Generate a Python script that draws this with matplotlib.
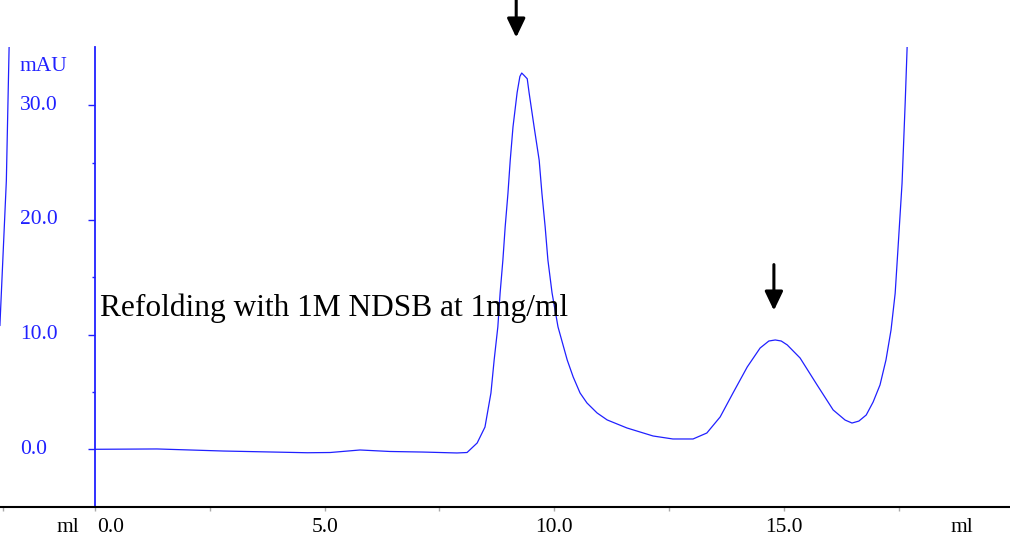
"""Chromatogram: refolding with 1M NDSB at 1mg/ml"""

import matplotlib
matplotlib.use("Agg")
import matplotlib.pyplot as plt
from matplotlib.ticker import FixedLocator

# trace (ml, mAU)
volume_ml = [
    0.00, 1.35, 2.79, 4.62, 5.12, 5.77, 6.42, 7.14, 7.88, 8.10,
    8.32, 8.49, 8.62, 8.69, 8.77, 8.82, 8.88, 8.93, 8.99, 9.04,
    9.10, 9.19, 9.25, 9.29, 9.34, 9.41, 9.45, 9.56, 9.67, 9.73,
    9.80, 9.86, 9.95, 10.08, 10.28, 10.41, 10.56, 10.71, 10.93, 11.15,
    11.58, 12.15, 12.58, 13.02, 13.32, 13.61, 13.89, 14.20, 14.48, 14.67,
    14.81, 14.94, 15.07, 15.35, 15.72, 16.07, 16.33, 16.48, 16.63, 16.79,
    16.94, 17.09, 17.22, 17.33, 17.42, 17.48, 17.57, 17.64, 17.68, 17.70,
]
absorbance_mau = [
    0.00, 0.03, -0.15, -0.30, -0.28, -0.06, -0.19, -0.24, -0.32, -0.28,
    0.55, 1.94, 4.91, 7.79, 10.67, 13.64, 16.5, 19.4, 22.3, 25.2,
    28.1, 31.1, 32.5, 32.8, 32.6, 32.3, 31.1, 28.1, 25.2, 22.3,
    19.4, 16.5, 13.64, 10.67, 7.79, 6.31, 4.91, 4.04, 3.17, 2.56,
    1.86, 1.16, 0.90, 0.90, 1.42, 2.82, 4.91, 7.18, 8.83, 9.44,
    9.53, 9.44, 9.10, 7.96, 5.61, 3.43, 2.55, 2.29, 2.46, 2.99,
    4.12, 5.61, 7.79, 10.4, 13.6, 17.4, 23.2, 30.4, 35.0, 40.0,
]
# tail of the previous run at the left edge
prev_ml = [-2.07, -1.93, -1.87, -1.85]
prev_mau = [10.8, 23.4, 35.0, 40.0]

y_major = [0, 10, 20, 30]
y_minor = [5, 15, 25]
y_labels = ["0.0", "10.0", "20.0", "30.0"]
x_major = [0, 5, 10, 15]
x_minor = [-2.0, 2.5, 7.5, 12.5, 17.5]
x_labels = ["0.0", "5.0", "10.0", "15.0"]
peak_marks = [(9.17, 35.9), (14.78, 12.1)]   # arrow tips

BLUE = "#2020ff"
SERIF = "Liberation Serif"

fig = plt.figure(figsize=(10.10, 5.41), dpi=100)
ax = fig.add_axes([0, 34 / 541, 1, 460 / 541])
ax.set_xlim(-2.068, 19.92)
ax.set_ylim(-5.03, 35.07)

ax.plot(volume_ml, absorbance_mau, color=BLUE, lw=0.9)
ax.plot(prev_ml, prev_mau, color=BLUE, lw=0.9)

for side in ("top", "right"):
    ax.spines[side].set_visible(False)
ax.spines["left"].set_position(("data", 0))
ax.spines["left"].set_color(BLUE)
ax.spines["left"].set_linewidth(1.3)
ax.spines["bottom"].set_color("black")
ax.spines["bottom"].set_linewidth(1.5)

# y ticks: blue, outward; labels drawn by hand at the far left
ax.yaxis.set_major_locator(FixedLocator(y_major))
ax.yaxis.set_minor_locator(FixedLocator(y_minor))
ax.tick_params(axis="y", which="major", direction="out", length=5,
               color=BLUE, width=1, labelleft=False)
ax.tick_params(axis="y", which="minor", direction="out", length=2.5,
               color=BLUE, width=1)
for v, s in zip(y_major, y_labels):
    ax.text(-1.635, v, s, ha="left", va="center", color=BLUE,
            family=SERIF, fontsize=15.5)
ax.text(-1.635, 33.4, "mAU", ha="left", va="center", color=BLUE,
        family=SERIF, fontsize=15.5)

# x ticks: small grey marks, labels in black
ax.xaxis.set_major_locator(FixedLocator(x_major))
ax.xaxis.set_minor_locator(FixedLocator(x_minor))
ax.tick_params(axis="x", which="both", direction="out", length=3,
               color="#aaaaaa", width=1, labelbottom=False)
for v, s in zip(x_major, x_labels):
    if v == 0:
        ax.text(0.04, -6.8, s, ha="left", va="center", family=SERIF,
                fontsize=15.5, clip_on=False)
    else:
        ax.text(v, -6.8, s, ha="center", va="center", family=SERIF,
                fontsize=15.5, clip_on=False)
ax.text(-0.59, -6.8, "ml", ha="center", va="center", family=SERIF,
        fontsize=15.5, clip_on=False)
ax.text(18.88, -6.8, "ml", ha="center", va="center", family=SERIF,
        fontsize=15.5, clip_on=False)

ax.text(0.11, 11.65, "Refolding with 1M NDSB at 1mg/ml", ha="left",
        va="baseline", family=SERIF, fontsize=22.6)

for x, y in peak_marks:
    ax.annotate("", xy=(x, y), xytext=(x, y + 4.0 if y < 30 else 39.3),
                annotation_clip=False,
                arrowprops=dict(arrowstyle="-|>,head_length=1.15,head_width=0.55",
                                color="black", lw=2.2, mutation_scale=10,
                                shrinkA=0, shrinkB=0))

fig.savefig("out.png", dpi=100)
